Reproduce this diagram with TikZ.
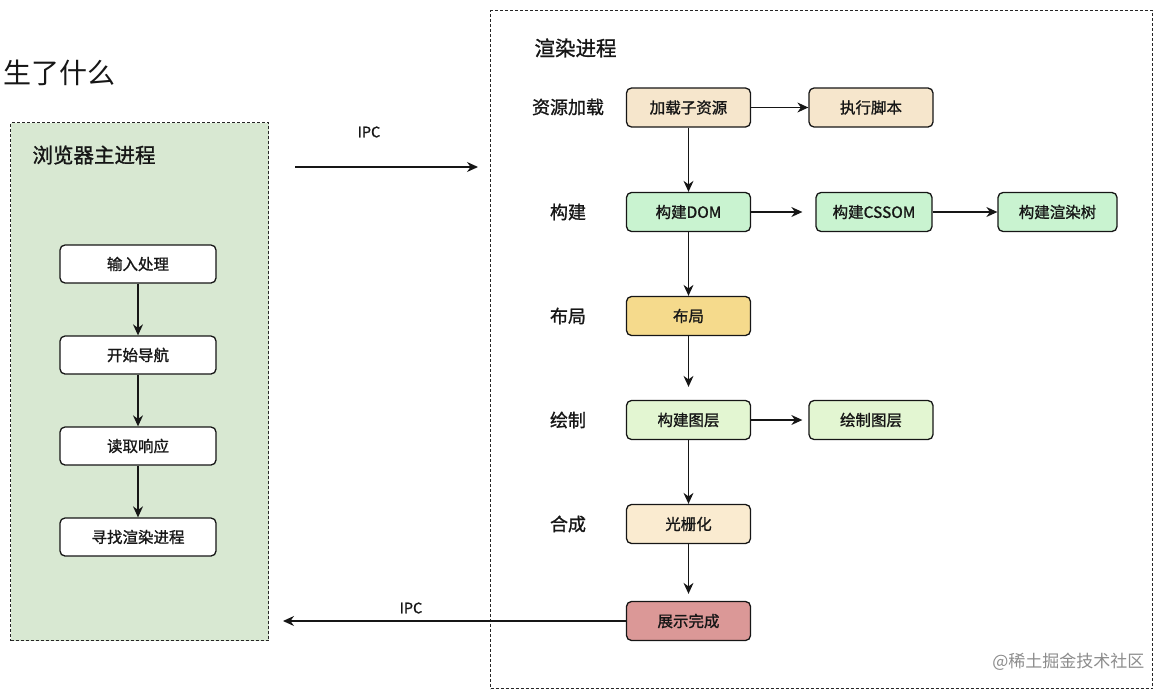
\documentclass[tikz,border=0pt]{standalone}
\usepackage{fontspec}
\setmainfont{Noto Sans CJK SC}
\newfontfamily\medfont{Noto Sans CJK SC}[FakeBold=1.2]
\usepackage{xcolor}
\usetikzlibrary{arrows.meta,positioning}
\definecolor{mainbg}{HTML}{D8E8D2}
\definecolor{loadbg}{HTML}{F6E6CC}
\definecolor{buildbg}{HTML}{C9F3D0}
\definecolor{layoutbg}{HTML}{F5DA8C}
\definecolor{paintbg}{HTML}{E3F6D2}
\definecolor{rasterbg}{HTML}{FAEBD0}
\definecolor{showbg}{HTML}{DB9897}
\definecolor{ink}{HTML}{161616}

\begin{document}
\begin{tikzpicture}
    [   x = 1pt, y = -1pt
    ,   stage/.style=
        {   draw = ink
        ,   line width = 1.3pt
        ,   rounded corners = 5pt
        ,   minimum width = 124pt
        ,   minimum height = 39pt
        ,   inner sep = 0pt
        ,   text = ink
        ,   font = \medfont\fontsize{15.5}{18}\selectfont
        }
    ,   task/.style = {stage, fill = white, minimum width = 156pt, minimum height = 38pt}
    ,   proc/.style =
        {   draw = black!85
        ,   line width = 1.3pt
        ,   dash pattern = on 3pt off 2pt
        ,   inner sep = 0pt
        ,   anchor = north west
        }
    ,   rowlabel/.style = {text = ink, font = \medfont\fontsize{18}{20}\selectfont}
    ,   heading/.style = {anchor = west, text = ink, font = \medfont\fontsize{20.5}{23}\selectfont}
    ,   > = {Stealth[length=11pt, width=10pt]}
    ,   flow/.style = {->, line width = 1.3pt, draw = ink}
    ]
    \useasboundingbox (0,0) rectangle (1166,693);

    % title
    \node[anchor=west, text=ink, font=\fontsize{28}{30}\selectfont] (title) at (0,73) {生了什么};

    % browser main process
    \node[proc, fill=mainbg, minimum width=258pt, minimum height=518pt] (browser) at (10,122) {};
    \node[heading] (browserName) at (29,155) {浏览器主进程};
    \node[task] (input) at (138,264) {输入处理};
    \node[task] (nav) at (138,355) {开始导航};
    \node[task] (resp) at (138,446) {读取响应};
    \node[task] (find) at (138,537) {寻找渲染进程};
    \draw[flow] (input) -- (nav);
    \draw[flow] (nav) -- (resp);
    \draw[flow] (resp) -- (find);

    % render process
    \node[proc, minimum width=662pt, minimum height=678pt] (render) at (490,10) {};
    \node[heading] (renderName) at (531,48) {渲染进程};

    \node[rowlabel] (rowLoad) at (568,107) {资源加载};
    \node[rowlabel] (rowBuild) at (568,212) {构建};
    \node[rowlabel] (rowLayout) at (568,316) {布局};
    \node[rowlabel] (rowPaint) at (568,420) {绘制};
    \node[rowlabel] (rowComp) at (568,524) {合成};

    \node[stage, fill=loadbg] (load) at (688.5,107.5) {加载子资源};
    \node[stage, fill=loadbg] (script) at (871,107.5) {执行脚本};
    \node[stage, fill=buildbg] (dom) at (688.5,212) {构建DOM};
    \node[stage, fill=buildbg, minimum width=116pt] (cssom) at (874,212) {构建CSSOM};
    \node[stage, fill=buildbg, minimum width=119pt] (rtree) at (1057.5,212) {构建渲染树};
    \node[stage, fill=layoutbg] (layout) at (688.5,316) {布局};
    \node[stage, fill=paintbg] (layer) at (688.5,420) {构建图层};
    \node[stage, fill=paintbg] (paint) at (871,420) {绘制图层};
    \node[stage, fill=rasterbg] (raster) at (688.5,524) {光栅化};
    \node[stage, fill=showbg] (show) at (688.5,621) {展示完成};

    \draw[flow] (load) -- (script);
    \draw[flow] (load) -- (dom);
    \draw[flow, shorten >=13pt] (dom) -- (cssom);
    \draw[flow] (cssom) -- (rtree);
    \draw[flow] (dom) -- (layout);
    \draw[flow, shorten >=13pt] (layout) -- (layer);
    \draw[flow, shorten >=6pt] (layer) -- (paint);
    \draw[flow] (layer) -- (raster);
    \draw[flow, shorten >=7pt] (raster) -- (show);

    % IPC between the two
    \coordinate (ipcA) at (295,167);
    \coordinate (ipcB) at (478,167);
    \draw[flow] (ipcA) -- (ipcB);
    \node[text=ink, font=\medfont\fontsize{14.5}{16}\selectfont] (ipcTop) at (369,132) {IPC};
    \coordinate (ipcC) at (283,621);
    \draw[flow] (show) -- (ipcC);
    \node[text=ink, font=\medfont\fontsize{14.5}{16}\selectfont] (ipcBottom) at (411,608) {IPC};

    % watermark
    \node[anchor=east, text=black!45, font=\fontsize{17}{19}\selectfont] (mark) at (1148,662) {@稀土掘金技术社区};
\end{tikzpicture}
\end{document}
